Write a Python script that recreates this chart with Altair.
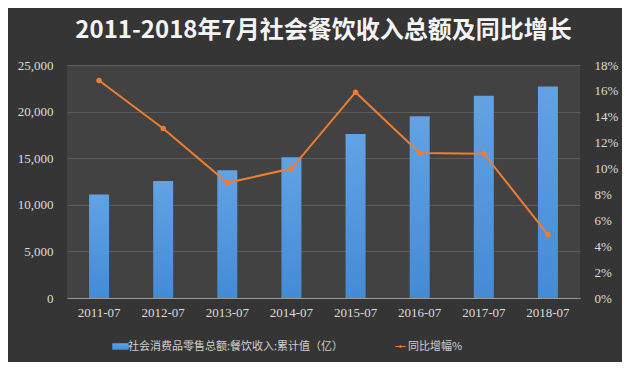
import altair as alt
import pandas as pd

categories = ["2011-07", "2012-07", "2013-07", "2014-07", "2015-07", "2016-07", "2017-07", "2018-07"]
revenue = [11100, 12550, 13700, 15100, 17600, 19500, 21700, 22700]
growth = [16.8, 13.1, 8.9, 10.0, 15.9, 11.2, 11.15, 4.9]

bar_name = "社会消费品零售总额:餐饮收入:累计值（亿）"
line_name = "同比增幅%"

df = pd.DataFrame({"month": categories, "revenue": revenue, "growth": growth,
                   "s1": bar_name, "s2": line_name})

label_font = "Liberation Serif"
cjk_font = "Noto Sans CJK SC"

x = alt.X("month:N", sort=categories, title=None,
          axis=alt.Axis(labelAngle=0, labelFont=label_font, labelFontSize=13,
                        labelColor="#dcdcdc", domainColor="#9a9a9a", ticks=False,
                        labelPadding=8))

bars = alt.Chart(df).mark_bar(
    size=20,
    color=alt.Gradient(gradient="linear", x1=0, x2=0, y1=0, y2=1,
                       stops=[alt.GradientStop(color="#62a2e4", offset=0),
                              alt.GradientStop(color="#448bd6", offset=1)])
).encode(
    x=x,
    y=alt.Y("revenue:Q", scale=alt.Scale(domain=[0, 25000]), title=None,
            axis=alt.Axis(values=[0, 5000, 10000, 15000, 20000, 25000],
                          labelExpr="format(datum.value, ',d')",
                          labelFont=label_font, labelFontSize=13, labelColor="#dcdcdc",
                          gridColor="#5c5c5c", gridWidth=1, domain=False, ticks=False,
                          labelPadding=14)),
    opacity=alt.Opacity("s1:N", scale=alt.Scale(domain=[bar_name], range=[1]),
                        legend=alt.Legend(orient="none", legendX=48, legendY=276,
                                          title=None, symbolType="M-1.5,-0.6H1.5V0.6H-1.5Z",
                                          symbolFillColor="#4a90dc", symbolStrokeWidth=0,
                                          symbolSize=120, labelFont=cjk_font,
                                          labelFontSize=11, labelColor="#d0d0d0",
                                          labelOffset=2, labelLimit=0)),
)

line_symbol = ("M-1,-0.09H-0.2V0.09H-1Z "
               "M0.2,-0.09H1V0.09H0.2Z "
               "M-0.24,0A0.24,0.24 0 1,1 0.24,0A0.24,0.24 0 1,1 -0.24,0Z")

line = alt.Chart(df).mark_line(strokeWidth=2, point=alt.OverlayMarkDef(
    color="#ED7D31", size=30, filled=True)).encode(
    x=x,
    y=alt.Y("growth:Q", scale=alt.Scale(domain=[0, 18]), title=None,
            axis=alt.Axis(orient="right", values=[0, 2, 4, 6, 8, 10, 12, 14, 16, 18],
                          labelExpr="datum.value + '%'", labelFont=label_font,
                          labelFontSize=13, labelColor="#dcdcdc", grid=False,
                          domain=False, ticks=False, labelPadding=14)),
    color=alt.Color("s2:N", scale=alt.Scale(domain=[line_name], range=["#ED7D31"]),
                    legend=alt.Legend(orient="none", legendX=328, legendY=276,
                                      title=None, symbolType=line_symbol,
                                      symbolFillColor="#ED7D31", symbolStrokeWidth=0,
                                      symbolSize=110,
                                      labelFont=cjk_font, labelFontSize=11,
                                      labelColor="#d0d0d0", labelOffset=2,
                                      labelLimit=0)),
)

chart = alt.layer(bars, line).resolve_scale(y="independent").properties(
    width=513, height=233,
    padding={"left": 59, "top": 57, "right": 42, "bottom": 64},
    autosize=alt.AutoSizeParams(type="none"),
    background="#353535",
    title=alt.TitleParams("2011-2018年7月社会餐饮收入总额及同比增长", font=cjk_font,
                          fontSize=24, fontWeight="bold", color="#f4f4f4",
                          anchor="middle", offset=16),
).configure_view(
    stroke=None,
    fill="#424242",
)

chart.save("out.html", embed_options={"renderer": "svg", "actions": False})
